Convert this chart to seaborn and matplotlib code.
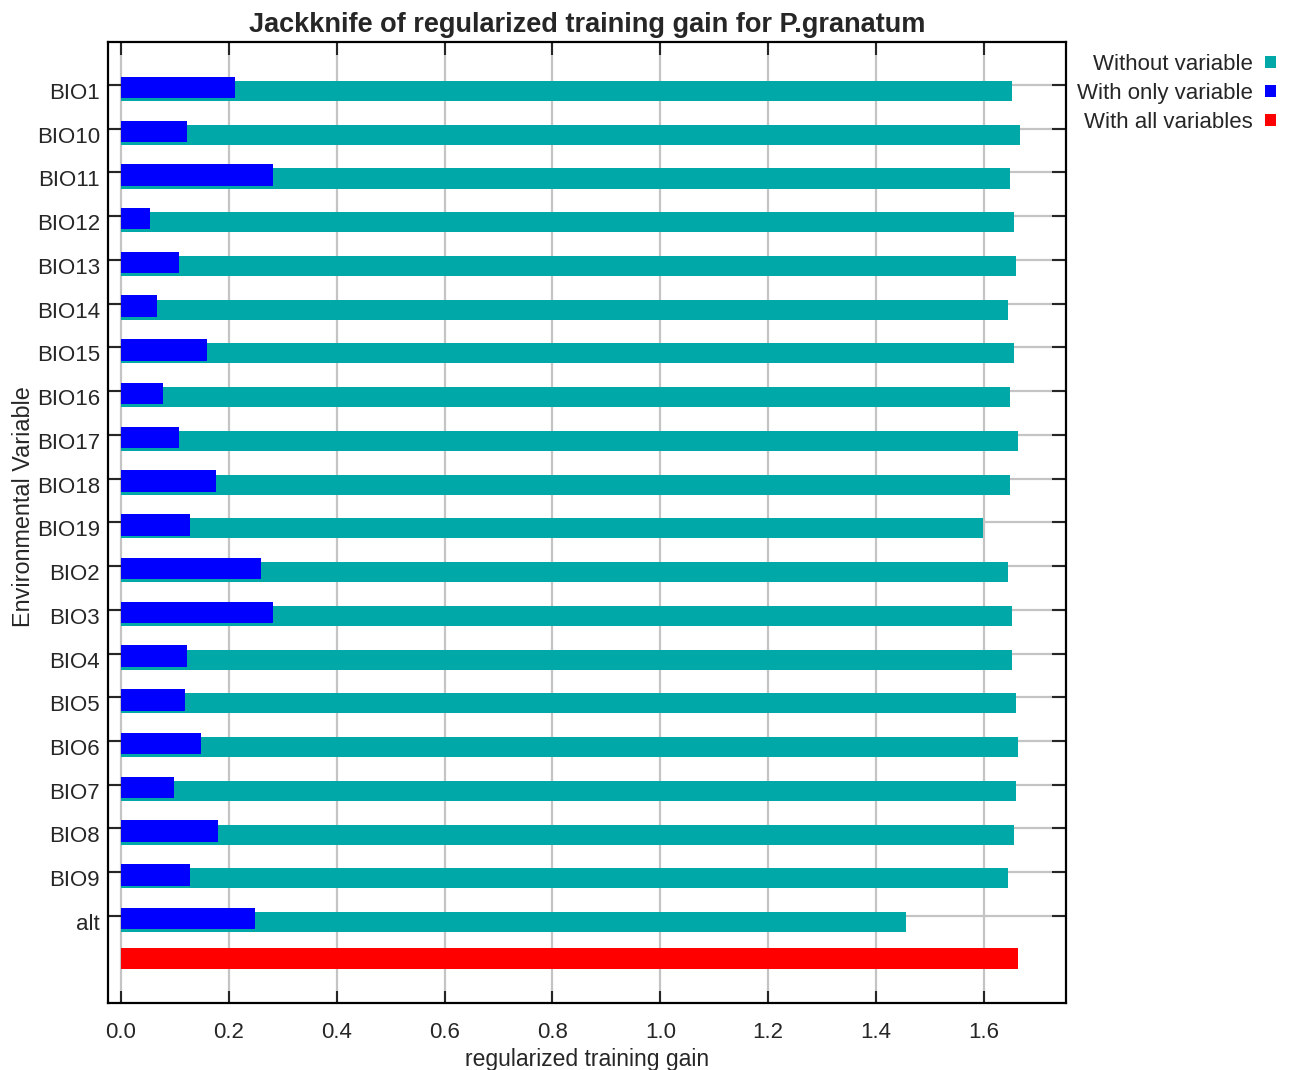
import numpy as np
import matplotlib
matplotlib.use("Agg")
import matplotlib.pyplot as plt
import matplotlib.transforms as mtransforms
from matplotlib.patches import Patch
import seaborn as sns

variables = ["BIO1", "BIO10", "BIO11", "BIO12", "BIO13", "BIO14", "BIO15",
             "BIO16", "BIO17", "BIO18", "BIO19", "BIO2", "BIO3", "BIO4",
             "BIO5", "BIO6", "BIO7", "BIO8", "BIO9", "alt"]
without_var = [1.652, 1.667, 1.648, 1.656, 1.659, 1.644, 1.656, 1.648, 1.663, 1.648,
               1.598, 1.644, 1.652, 1.652, 1.659, 1.663, 1.659, 1.656, 1.644, 1.455]
only_var = [0.211, 0.122, 0.282, 0.054, 0.108, 0.067, 0.159, 0.078, 0.108, 0.176,
            0.128, 0.260, 0.282, 0.122, 0.119, 0.148, 0.098, 0.180, 0.128, 0.248]
all_vars = [1.663]

teal = "#00A8A8"
blue = "#0000FF"
red = "#FF0000"

sns.set_style("ticks")
plt.rcParams["font.family"] = ["Liberation Sans", "DejaVu Sans"]

fig = plt.figure(figsize=(12.93, 10.70), dpi=100)
ax = fig.add_axes([108 / 1293, 1 - 1003 / 1070, (1066 - 108) / 1293, (1003 - 42) / 1070])

pos = np.arange(len(variables), dtype=float)

ax.grid(True, color="#c4c4c4", linewidth=1.6, zorder=0)
ax.set_axisbelow(True)

# teal behind, blue on top, red summary bar below the last row
sns.barplot(x=without_var, y=pos + 0.14, orient="h", native_scale=True, width=0.46,
            color=teal, saturation=1, linewidth=0, errorbar=None, ax=ax, zorder=2)
sns.barplot(x=only_var, y=pos + 0.06, orient="h", native_scale=True, width=0.49,
            color=blue, saturation=1, linewidth=0, errorbar=None, ax=ax, zorder=3)
sns.barplot(x=all_vars, y=[pos[-1] + 0.97], orient="h", native_scale=True, width=0.48,
            color=red, saturation=1, linewidth=0, errorbar=None, ax=ax, zorder=3)

ax.set_xlim(-0.024, 1.752)
ax.set_ylim(pos[-1] + 1.99, -0.98)
xt = np.arange(0, 1.61, 0.2)
ax.set_xticks(xt)
ax.set_xticklabels([f"{v:.1f}" for v in xt])
ax.set_yticks(pos)
ax.set_yticklabels(variables)

ax.tick_params(axis="y", which="both", direction="in", length=10, width=1.5,
               left=True, right=True, labelsize=16, pad=5.8)
ax.tick_params(axis="x", which="both", direction="in", length=9, width=1.5,
               top=True, bottom=True, labelsize=16, pad=14)
for sp in ax.spines.values():
    sp.set_visible(True)
    sp.set_linewidth(1.6)
    sp.set_color("black")

# labels sit a little below their tick
offset = mtransforms.ScaledTranslation(0, -6 / 100, fig.dpi_scale_trans)
for lab in ax.get_yticklabels():
    lab.set_transform(lab.get_transform() + offset)

ax.set_xlabel("regularized training gain", fontsize=16.5, labelpad=3)
ax.set_ylabel("Environmental Variable", fontsize=16.8)
ax.yaxis.set_label_coords(-0.076, 0.516)
ax.set_title("Jackknife of regularized training gain for P.granatum",
             fontsize=19.5, fontweight="bold", pad=7)

handles = [Patch(facecolor=teal, edgecolor="none", label="Without variable"),
           Patch(facecolor=blue, edgecolor="none", label="With only variable"),
           Patch(facecolor=red, edgecolor="none", label="With all variables")]
fig.legend(handles=handles, loc="upper right", bbox_to_anchor=(1285 / 1293, 1 - 45 / 1070),
           frameon=False, markerfirst=False, handlelength=0.5, handleheight=0.5,
           handletextpad=0.55, labelspacing=0.36, fontsize=16, borderaxespad=0)

fig.savefig("out.png", dpi=100)
